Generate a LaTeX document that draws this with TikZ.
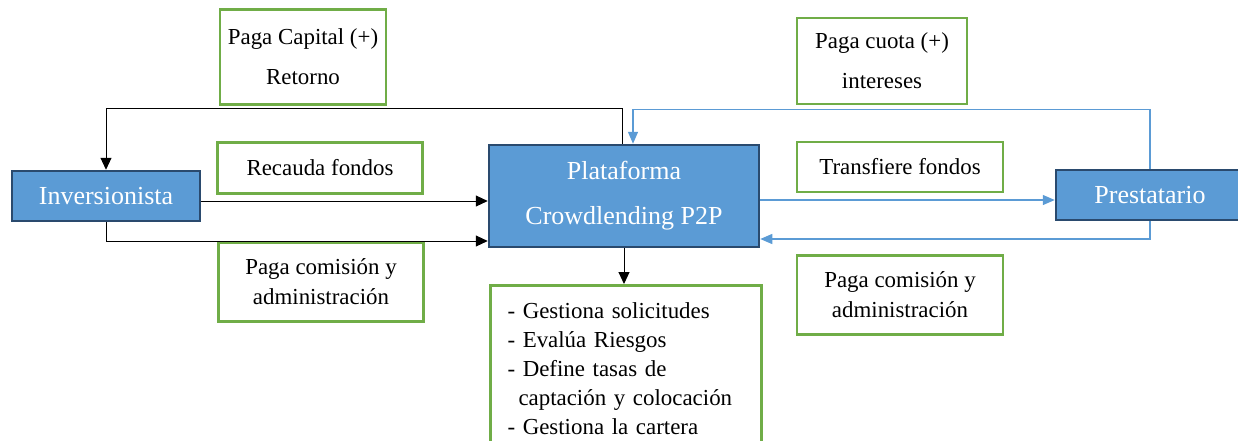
\documentclass[tikz,border=0pt]{standalone}
\usepackage{fontspec}
\setmainfont{Liberation Serif}
\usetikzlibrary{arrows.meta}
\definecolor{boxblue}{HTML}{5B9BD5}
\definecolor{boxedge}{HTML}{2A4A6E}
\definecolor{boxgreen}{HTML}{70AD47}
\definecolor{lineblue}{HTML}{5B9BD5}

\begin{document}
\begin{tikzpicture}[x=1pt, y=-1pt,
    actor/.style={draw=boxedge, line width=2.5pt, fill=boxblue, text=white,
        minimum height=50pt, align=center, font=\fontsize{26}{45}\selectfont},
    flow/.style={draw=boxgreen, line width=2.5pt, fill=white,
        align=center, font=\fontsize{22.9}{40}\selectfont},
    flowtight/.style={flow, font=\fontsize{22.9}{30}\selectfont},
    blk/.style={line width=1pt, -{Triangle[length=12pt,width=11pt]}},
    blu/.style={line width=1.3pt, lineblue, -{Triangle[length=12pt,width=10pt]}}]
\useasboundingbox (0,0) rectangle (1238,440);

    \node[actor, minimum width=188pt] (inv) at (106,196) {Inversionista};
    \node[actor, minimum width=270pt, minimum height=102pt] (plat) at (624,196)
        {Plataforma\\Crowdlending P2P};
    \node[actor, minimum width=188pt] (prest) at (1150,195) {Prestatario};

    \node[flow, minimum width=166pt, minimum height=95pt] (capital) at (303,57)
        {Paga Capital (+)\\Retorno};
    \node[flow, minimum width=170pt, minimum height=86pt] (cuota) at (882,61)
        {Paga cuota (+)\\intereses};
    \node[flow, minimum width=205pt, minimum height=51pt] (recauda) at (320,168)
        {Recauda fondos};
    \node[flow, minimum width=206pt, minimum height=50pt] (transfiere) at (900,167)
        {Transfiere fondos};
    \node[flowtight, minimum width=205pt, minimum height=79pt] (comisionA) at (321,282)
        {Paga comisión y\\administración};
    \node[flowtight, minimum width=206pt, minimum height=79pt] (comisionB) at (900,295)
        {Paga comisión y\\administración};
    \node[flow, anchor=north, align=left, text width=237pt, inner xsep=17pt, inner ysep=17pt,
        font=\fontsize{22.9}{29}\selectfont] (tareas) at (626,284)
        {- Gestiona solicitudes\\
         - Evalúa Riesgos\\
         - Define tasas de\\
         \hspace*{11pt}captación y colocación\\
         - Gestiona la cartera};

    \draw[blk]
([xshift=-2pt]plat.north) -- ++(0,-35) -| (inv.north);
    \draw[blk]
([yshift=-5pt]inv.east) -- ([yshift=-5pt]inv.east -| plat.west);
    \draw[blk]
(inv.south) |- ([yshift=-45pt]plat.west);
    \draw[blk]
(plat.south) -- (plat.south |- tareas.north);
    \draw[blu]
(prest.north) -- ++(0,-59) -| ([xshift=9pt]plat.north);
    \draw[blu]
([yshift=-4pt]plat.east) -- ([yshift=-4pt]plat.east -| prest.west);
    \draw[blu]
(prest.south) |- ([yshift=-43pt]plat.east);
\end{tikzpicture}
\end{document}
